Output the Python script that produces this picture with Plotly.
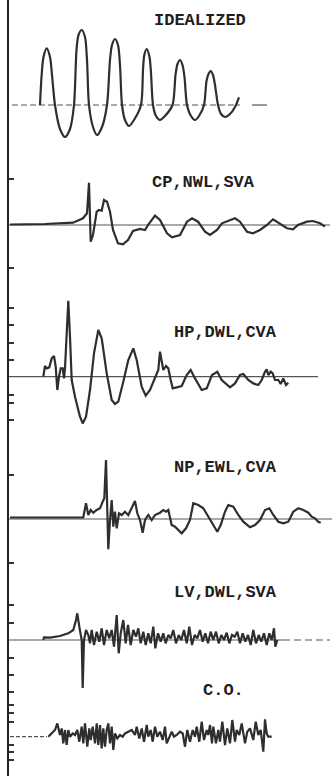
import plotly.graph_objects as go

# ---------------- data (time in px-like units, amplitude up-positive) -------------
ideal_t = [40, 41.5, 43.5, 46.7, 50, 52, 55, 60, 65, 70, 74, 76.5, 78.5, 81.7, 85, 87, 89, 93, 97,
           102, 107, 110, 112, 115, 118, 120, 122, 125, 129, 134, 141, 143, 144.3, 146.7, 149.5,
           151, 153, 156, 160, 165, 172.5, 175.5, 177.5, 180, 182.5, 184.5, 187, 191, 195, 199,
           204, 206.5, 208.5, 210.7, 213, 215, 218, 221, 225, 230, 235, 239]
ideal_a = [0, 28, 48, 56.7, 48, 30, 0, -24, -32, -24, 0, 55, 70, 75, 68, 45, 0, -22, -30,
           -22, 0, 45, 60, 66, 60, 40, 0, -15, -21, -15, 0, 35, 50, 56, 48, 32, 0, -11, -15,
           -11, 0, 30, 41, 45, 40, 28, 0, -11, -15, -11, 0, 24, 31, 34, 30, 20, 0, -9, -12,
           -9, -2, 7.7]

cp_t = [10, 45, 73, 83, 87, 89, 90.7, 93, 96.7, 99, 101.7, 104, 107, 110, 113, 118, 123, 128, 133,
        140, 145, 148, 155, 160, 167, 172, 180, 187, 192, 198, 205, 210, 217, 222, 235, 240, 247,
        253, 260, 267, 273, 280, 287, 293, 298, 307, 313, 320, 325]
cp_a = [0.5, 1, 2.3, 6.7, 11.7, 42.3, -16.7, -10, 13.3, 15, 14.3, 25, 23.3, 13.3, -5, -18.3, -19.3,
        -15, -6, -4, -5, 0, 9.3, 5, -8.3, -12.3, -10, 3.3, 6.7, 3.3, -6.7, -10, -5, 1.7, 6.7, 3.3,
        -6.7, -8.3, -5, 0, 5.7, 1, -3.3, -4.3, 0, 3.3, 4, 1.7, -1.7]

hp_t = [43.3, 45, 46.7, 49.3, 51.7, 54, 55.7, 57.3, 59, 60.7, 62.7, 64, 65, 66.7, 68.3, 70, 71.7,
        75, 80, 82.7, 86, 90, 94, 98.3, 101.7, 106.7, 111.7, 115, 118.3, 123.3, 128.3, 133.3,
        136.7, 141.7, 145.7, 150, 154, 158.3, 160, 161.7, 163.3, 166, 168.3, 170.7, 172.7, 176.7,
        181.7, 186.7, 190.7, 195, 201.7, 206.7, 212, 217.3, 221.7, 230, 235, 240, 243.3, 248.3,
        253.3, 258.3, 261.7, 265, 266.7, 268.3, 270.7, 272.7, 275, 278.3, 280.7, 283.3, 286, 288.3]
hp_a = [0, 10.7, 8.3, 9.3, 18.3, 20.7, 10, -13.3, 0, 8.3, 8.3, -1.7, 8.3, 40, 76, 40, -3.3,
        -20, -40, -46.7, -40, -13.3, 23.3, 46.7, 38.3, 3.3, -23.3, -27.3, -25, -5, 16.7, 28.3,
        16.7, -10, -19, -13.3, -3.3, 6.7, 25, 13.3, 6.7, 10.7, 8.3, -3.3, -11.7, -10.7,
        -9.3, 1.7, 6.7, -1.7, -13.3, -11.7, 1.7, 5, -3.3, -10.7, -6.7, 1.7, 2.7, -3.3,
        -6.7, -8.3, -3.3, 5, 7.3, 1.7, 5, 3.3, -3.3, -3.3, -7.3, -1.7, -8.3, -6]

np_t = [10, 83.3, 86, 88.3, 90.7, 93.3, 96.7, 100, 102.7, 104.3, 106, 107.3, 108.3, 110, 111.7,
        113.3, 115, 116.7, 119, 121.7, 125, 128.3, 131.7, 135, 137.3, 140, 142.7, 145, 148.3,
        151.7, 155, 160, 163.3, 166, 168.3, 171.7, 175, 178.3, 181.7, 186, 190, 193.3, 198.3,
        203.3, 208.3, 213.3, 217.3, 220.7, 225, 228.3, 233.3, 238.3, 243.3, 250, 255, 260, 265,
        269.3, 273.3, 278.3, 283.3, 288.3, 293.3, 298.3, 303.3, 308.3, 311.7, 315, 318.3, 320.7]
np_a = [1.5, 1.7, 15.7, 4, 9, 6.3, 9, 10.7, 17.3, 20.7, 59, -1, -30.3, -1, 19, -7.7, 7.3, -9.3,
        5.7, 4, 7.3, 4, 10.7, 18, 5.7, -1, -13.7, -1, 4, -1, 4, 6.3, 9, 7.3, 9, -6, -7.7,
        -11, -14.3, -9.3, -1, 15.7, 14, 10.7, 3, -6, -12.7, -6, 7.3, 14, 12.3, 4, -2.7, -8.3,
        -6, -1, 9, 10.7, 4, -2.7, -4.3, -2.7, 7.3, 10.7, 9, 6.3, 2.3, 0.7, -2.7, -3.7]

lv_t = [43.3, 44, 50, 60, 68.3, 73.3, 76, 77.3, 79.3, 81.7, 82.7, 84, 86, 88.3, 90, 91.7, 94, 96.7,
        99.3, 101.7, 104, 106.7, 109.3, 111.7, 114, 116.7, 118.7, 120.7, 123.3, 125.7, 128, 130.7,
        133.3, 136, 138.3, 140.7, 143.3, 145.7, 148.3, 150.7, 153.3, 155.3, 158, 160.7, 163.3,
        165.7, 168.3, 170.7, 173.3, 176, 178.7, 181.3, 184, 186.7, 189.3, 192, 194.7, 197.3, 200,
        202.7, 205.3, 208, 210.7, 213.3, 216, 218.7, 221.3, 224, 226.7, 229.3, 232, 234.7, 237.3,
        240, 242.7, 245.3, 248, 250.7, 253.3, 256, 258.7, 261.3, 264, 266.7, 269.3, 271.7, 274,
        275.3, 277.3]
lv_a = [0, 2.7, 2.3, 4, 6.7, 10, 20, 26.7, 13.3, 0, -48, 0, 10, 5, -3.3, 10, -5, 8.3, -1.7,
        11.7, -5, 10, 1.7, 10, -6.7, 25, -13.3, 6.7, 20, -3.3, 15, -5, 10, 3.3, 11.7, -3.3,
        8.3, -5, 6.7, -3.3, 13.3, -8.3, 6.7, -1.7, 6.7, -3.3, 5, 1.7, 10, -3.3, 5, 0, 10,
        -3.3, 13.3, -5, 5, 1.7, 10, -1.7, 6.7, -3.3, 8.3, 0, 8.3, -3.3, 5, 0, 7.3, -3.3, 5,
        3.3, 8.3, -3.3, 6.7, -1.7, 5, -5, 10, -3.3, 5, -1.7, 6.7, -5, 6.7, 0, 11.7, -6.7, 0]

co_t = [48.3, 51.7, 55, 57.3, 60, 61.7, 63.3, 65, 66.7, 68.3, 70, 72.7, 75, 77.3, 79.3, 81.7,
        83.3, 85, 87.3, 89.3, 90.7, 92.7, 95, 96.7, 98.3, 100, 101.7, 103.3, 105, 106.7, 108.3,
        110, 111.7, 113.3, 115, 117.3, 120, 122.7, 125, 128.3, 131.7, 135, 136.7, 139.3, 141.7,
        144, 146.7, 148.3, 150.7, 152.7, 155, 157.3, 160, 162.7, 165, 166.7, 169.3, 171.7, 174,
        176.7, 180, 182.7, 185, 187.3, 190, 192.7, 195, 196.7, 199.3, 201.7, 204, 206.7, 208.3,
        210, 212, 213.3, 216, 218.3, 220, 222.3, 225, 227.3, 230, 232.3, 235, 236.7, 239.3,
        241.7, 245, 247.3, 250, 253.3, 255.7, 258.3, 260.7, 263.3, 265, 266.7, 268.3, 271.7,
        278.3]
co_a = [0, 3.3, 6.7, 13.3, 1.7, 8.3, -6.7, 6.7, -8.3, 6.7, 0, 3.3, 1.7, 6.7, -5, 10, -6.7,
        13.3, -10, 8.3, -3.3, 10, -6.7, 13.3, -8.3, 11.7, -11.7, 8.3, -10, 6.7, 13.3, -6.7,
        10, -13.3, 3.3, -1.7, 1.7, 0, 3.3, 5, 6.7, 1.7, 10, -1.7, 8.3, -5, 11.7, 0, 6.7, -5,
        10, 0, 5, -3.3, 10, -6.7, 0, 5, 0, 1.7, 5, 3.3, -10, 6.7, -5, 6.7, 0, 10, -5, 15, -3.3,
        6.7, 1.7, 11.7, -6.7, 10, -6.7, 6.7, -5, 15, -8.3, 8.3, -6.7, 16.7, -5, 6.7, 1.7, 13.3,
        -6.7, 5, 8.3, -3.3, 15, 1.7, 6.7, -15, 17.3, 3.3, 0, 0]

labels = ["IDEALIZED", "CP,NWL,SVA", "HP,DWL,CVA", "NP,EWL,CVA", "LV,DWL,SVA", "C.O."]

# ---------------- layout constants ----------------
baselines = [105, 225, 376.7, 519, 640, 736.7]
label_pos = [(200, 20), (203.5, 182), (225.5, 332), (225.5, 467), (225.5, 592), (223, 690)]
# baseline segments: (x0, x1, dash)
base_segs = [
    [(12, 240, "6px,3px"), (252, 267, "solid")],
    [(8, 330, "solid")],
    [(8, 318, "solid")],
    [(8, 332, "solid")],
    [(8, 283, "solid"), (283, 330, "7px,4px")],
    [(10, 47, "4px,2px")],
]
tick_y = [179, 268, 308.3, 325, 342.7, 360, 395, 403.3, 420, 475, 563.3, 605, 623.3,
          658.3, 675, 691.7, 705, 713, 721.7, 745, 751.7, 760]

INK = "#2e2e2e"
series = [(ideal_t, ideal_a), (cp_t, cp_a), (hp_t, hp_a), (np_t, np_a), (lv_t, lv_a), (co_t, co_a)]

fig = go.Figure()
for i, (t, a) in enumerate(series):
    b = baselines[i]
    for (x0, x1, dash) in base_segs[i]:
        fig.add_trace(go.Scatter(x=[x0, x1], y=[b, b], mode="lines",
                                 line=dict(color="#555", width=1.2, dash=dash),
                                 hoverinfo="skip", showlegend=False))
    shape = "spline" if i == 0 else "linear"
    fig.add_trace(go.Scatter(x=t, y=[b - v for v in a], mode="lines",
                             line=dict(color=INK, width=2.2, shape=shape, smoothing=0.8),
                             showlegend=False))
    fig.add_annotation(x=label_pos[i][0], y=label_pos[i][1], text=labels[i], showarrow=False,
                       xanchor="center", yanchor="middle",
                       font=dict(family="Liberation Mono", size=17, color="#1e1e1e",
                                 weight="bold"))

fig.update_layout(
    width=333, height=776, margin=dict(l=0, r=0, t=0, b=0),
    paper_bgcolor="white", plot_bgcolor="white",
    xaxis=dict(range=[0, 333], visible=False, domain=[0, 1]),
    yaxis=dict(range=[776, 0], showgrid=False, zeroline=False, showline=True,
               linecolor="#222", linewidth=2, anchor="free", position=8 / 333,
               tickmode="array", tickvals=tick_y, ticks="inside", ticklen=5,
               tickwidth=1.5, tickcolor="#333", showticklabels=False),
)
fig.write_html("out.html", config={"displayModeBar": False},
               post_script="document.body.style.margin='0';document.body.style.padding='0';")
